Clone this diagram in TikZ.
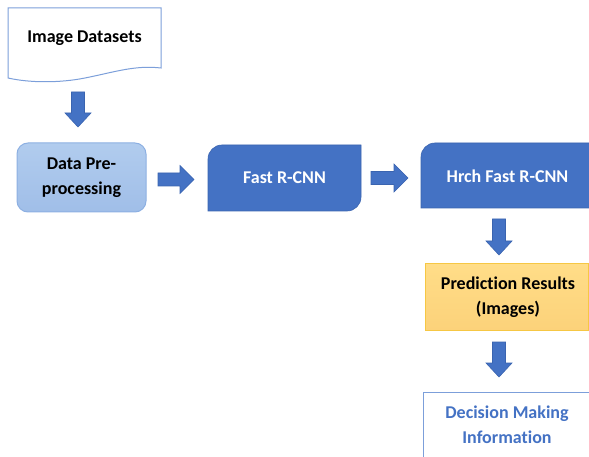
\documentclass[tikz,border=0pt]{standalone}
\usepackage{fontspec}
\setmainfont{Carlito}[RawFeature=-liga]
\definecolor{mainblue}{HTML}{4472C4}
\definecolor{edgeblue}{HTML}{3A64B0}
\definecolor{lightedge}{HTML}{7C9FDA}
\definecolor{pretop}{HTML}{B1CCEE}
\definecolor{prebot}{HTML}{A0BEE8}
\definecolor{preedge}{HTML}{8DB0E2}
\definecolor{predtop}{HTML}{FFDD88}
\definecolor{predbot}{HTML}{FCD27A}
\definecolor{prededge}{HTML}{F6C744}
\newcommand\blkdown[3]{%
  \draw[blockarrow] (#1-6.5,#2) -- (#1+6.5,#2) -- (#1+6.5,#3-14) -- (#1+13,#3-14) -- (#1,#3) -- (#1-13,#3-14) -- (#1-6.5,#3-14) -- cycle;}
\newcommand\blkright[3]{%
  \draw[blockarrow] (#1,#3-6.5) -- (#2-14,#3-6.5) -- (#2-14,#3-14) -- (#2,#3) -- (#2-14,#3+14) -- (#2-14,#3+6.5) -- (#1,#3+6.5) -- cycle;}
\tikzset{
  lbl/.style={font=\fontsize{18}{25}\selectfont\bfseries, align=center, inner sep=0pt},
  blockarrow/.style={fill=mainblue, draw=edgeblue, line width=0.6pt},
}
\begin{document}
\begin{tikzpicture}[x=1pt,y=-1pt]
\useasboundingbox (0,0) rectangle (589,457);
\clip (0,0) rectangle (589,457);
% Image Datasets (document shape)
\draw[lightedge, line width=1pt, fill=white] (8,78) -- (8,8) -- (161,8) -- (161,68)
  .. controls (135,65) and (115,72) .. (85,78)
  .. controls (60,83) and (30,83) .. (8,78) -- cycle;
\node[lbl] (img) at (84.5,38) {Image Datasets};
\blkdown{78}{92}{127}
% Data Pre-processing
\shade[top color=pretop, bottom color=prebot, draw=preedge, line width=1pt, rounded corners=11pt]
  (17,143) rectangle (146,212);
\node[lbl] (pre) at (81.5,178) {Data Pre-\\processing};
\blkright{158}{194}{179.5}
% Fast R-CNN
\draw[fill=mainblue, draw=edgeblue, line width=0.6pt] (208,211) -- (208,159)
  .. controls (208,151.3) and (214.3,145) .. (222,145) -- (361,145) -- (361,197)
  .. controls (361,204.7) and (354.7,211) .. (347,211) -- cycle;
\node[lbl, text=white] (fast) at (284.5,177.5) {Fast R-CNN};
\blkright{371}{408}{178}
% Hrch Fast R-CNN
\draw[fill=mainblue, draw=edgeblue, line width=0.6pt] (421,208) -- (421,157)
  .. controls (421,149.3) and (427.3,143) .. (435,143) -- (600,143) -- (600,208) -- cycle;
\node[lbl, text=white] (hrch) at (507.5,176) {Hrch Fast R-CNN};
\blkdown{499}{219}{255}
% Prediction Results
\shade[top color=predtop, bottom color=predbot, draw=prededge, line width=1pt]
  (425,263) rectangle (588.5,330);
\node[lbl] (pred) at (508,297) {Prediction Results\\(Images)};
\blkdown{499}{342}{377}
% Decision Making Information
\draw[lightedge, line width=1pt, fill=white] (423,392) rectangle (600,470);
\node[lbl, text=mainblue] (dec) at (507,425) {Decision Making\\Information};
\end{tikzpicture}
\end{document}
